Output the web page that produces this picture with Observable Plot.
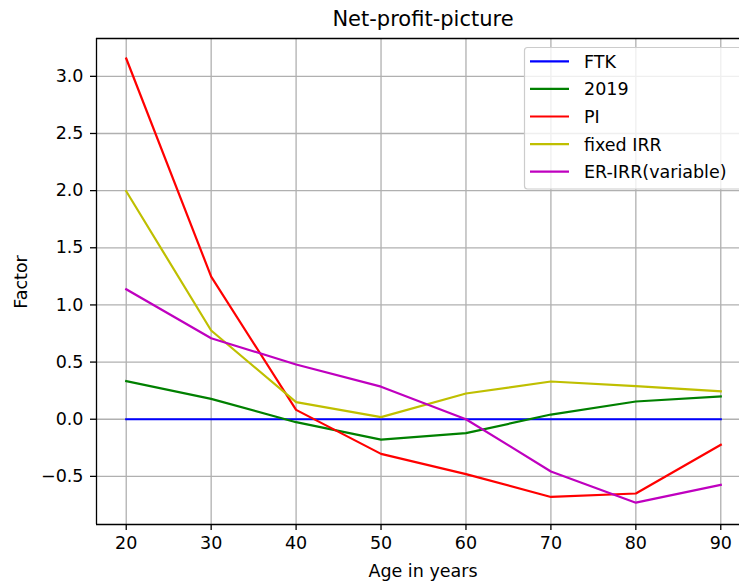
<!DOCTYPE html>
<html><head><meta charset="utf-8">
<script src="https://cdn.jsdelivr.net/npm/d3@7"></script>
<script src="https://cdn.jsdelivr.net/npm/@observablehq/plot@0.6"></script>
<style>
html,body{margin:0;padding:0;background:#fff;overflow:hidden;}
#wrap{position:relative;width:739px;height:582px;font-family:"DejaVu Sans",sans-serif;}
#wrap svg{position:absolute;left:0;top:0;}
</style></head><body><div id="wrap"></div>
<script>
const ages = [20, 30, 40, 50, 60, 70, 80, 90];
const seriesNames = ["FTK", "2019", "PI", "fixed IRR", "ER-IRR(variable)"];
const seriesColors = ["#0000ff", "#008000", "#ff0000", "#bfbf00", "#bf00bf"];
const ftk = [0, 0, 0, 0, 0, 0, 0, 0];
const y2019 = [0.333, 0.178, -0.026, -0.178, -0.122, 0.041, 0.155, 0.200];
const pi = [3.156, 1.248, 0.082, -0.303, -0.480, -0.680, -0.650, -0.224];
const fixedIrr = [1.995, 0.776, 0.149, 0.018, 0.225, 0.330, 0.290, 0.245];
const erIrr = [1.137, 0.709, 0.479, 0.285, 0.000, -0.457, -0.730, -0.574];
const xTicks = [20, 30, 40, 50, 60, 70, 80, 90];
const yTicks = [-0.5, 0, 0.5, 1, 1.5, 2, 2.5, 3];
const yTickLabels = ["\u22120.5", "0.0", "0.5", "1.0", "1.5", "2.0", "2.5", "3.0"];
const titleText = "Net-profit-picture";
const xLabel = "Age in years";
const yLabel = "Factor";

const seriesValues = [ftk, y2019, pi, fixedIrr, erIrr];
const rows = [];
seriesNames.forEach((name, i) => {
  ages.forEach((a, j) => rows.push({series: name, age: a, value: seriesValues[i][j]}));
});

const xDomain = [16.5, 93.5];
const yDomain = [-0.921, 3.331];

const W = 739, H = 582;
const chart = Plot.plot({
  width: W, height: H,
  marginLeft: 96, marginTop: 38, marginBottom: 58, marginRight: 0,
  style: {fontFamily: "DejaVu Sans, sans-serif", fontSize: "17.5px", color: "#000", background: "transparent"},
  x: {domain: xDomain, range: [96, 750]},
  y: {domain: yDomain, range: [524, 38]},
  color: {domain: seriesNames, range: seriesColors},
  marks: [
    Plot.gridX(xTicks, {stroke: "#b0b0b0", strokeOpacity: 1, strokeWidth: 1.3}),
    Plot.gridY(yTicks, {stroke: "#b0b0b0", strokeOpacity: 1, strokeWidth: 1.3}),
    Plot.line(rows, {x: "age", y: "value", z: "series", stroke: "series", strokeWidth: 2.2, strokeLinejoin: "round", strokeLinecap: "square"}),
    Plot.ruleX([xDomain[0]], {stroke: "#000", strokeWidth: 1.3}),
    Plot.ruleY([yDomain[0], yDomain[1]], {stroke: "#000", strokeWidth: 1.3}),
    Plot.axisX(xTicks, {tickSize: 6, tickPadding: 6, label: null, stroke: "#000", strokeWidth: 1.3, fill: "#000"}),
    Plot.axisY(yTicks, {tickSize: 6, tickPadding: 7, label: null, stroke: "#000", strokeWidth: 1.3, fill: "#000",
      tickFormat: (d) => yTickLabels[yTicks.indexOf(d)]})
  ]
});
const wrap = document.getElementById("wrap");
wrap.appendChild(chart);

// Overlay: title, axis labels, legend
const ov = d3.select(wrap).append("svg")
  .attr("width", W).attr("height", H)
  .style("font-family", "DejaVu Sans, sans-serif")
  .style("pointer-events", "none");
ov.append("text").attr("x", 423).attr("y", 26).attr("text-anchor", "middle")
  .attr("font-size", 21).attr("fill", "#000").text(titleText);
ov.append("text").attr("x", 423).attr("y", 577).attr("text-anchor", "middle")
  .attr("font-size", 17.5).attr("fill", "#000").text(xLabel);
ov.append("text").attr("transform", "translate(27,282) rotate(-90)").attr("text-anchor", "middle")
  .attr("font-size", 17.5).attr("fill", "#000").text(yLabel);

const lg = ov.append("g");
lg.append("rect").attr("x", 524.5).attr("y", 47.5).attr("width", 217).attr("height", 141.5)
  .attr("rx", 3).attr("fill", "#fff").attr("fill-opacity", 0.8).attr("stroke", "#cccccc").attr("stroke-width", 1.2);
seriesNames.forEach((name, i) => {
  const yy = 61.3 + i * 27.6;
  lg.append("line").attr("x1", 530).attr("x2", 569).attr("y1", yy).attr("y2", yy)
    .attr("stroke", seriesColors[i]).attr("stroke-width", 2.2);
  lg.append("text").attr("x", 584).attr("y", yy + 6.4).attr("font-size", 17.5).attr("fill", "#000").text(name);
});
</script>
</body></html>
